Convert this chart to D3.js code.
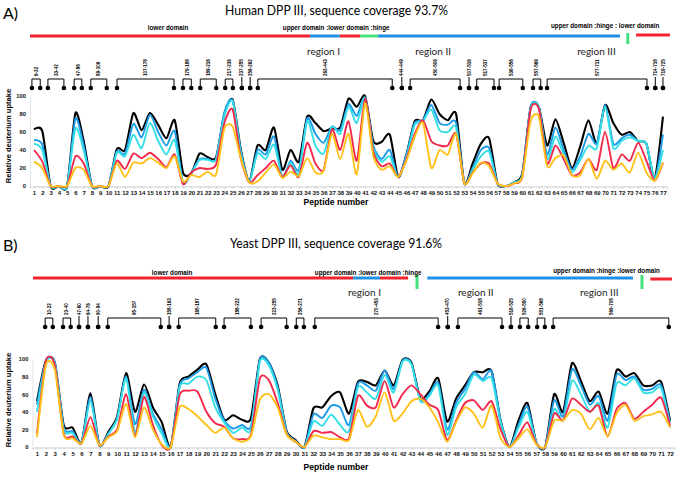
<!DOCTYPE html>
<html><head><meta charset="utf-8">
<script src="https://cdn.jsdelivr.net/npm/d3@7"></script>
<style>body{margin:0;background:#fff}svg{display:block}</style>
</head><body>
<svg id="c" width="682" height="477"></svg>
<script>
// ---------- Panel A: Human DPP III ----------
const humanPeptides = d3.range(1, 78);
const humanBlack = [63,61,0,0,0,81,50,0,0,0, 41,40,81,62,81,68,53,73,15,14, 36,32,32,80,96,40,5,45,40,65, 18,40,27,77,70,61,64,65,97,88, 100,50,49,57,10,35,72,73,96,80, 73,80,3,25,47,53,3,0,4,14, 87,88,45,74,48,20,44,73,47,90, 70,57,60,50,47,8,77];
const humanBlue  = [51,46,0,0,0,75,45,0,0,0, 38,36,69,54,79,60,45,61,4,15, 30,30,30,82,95,38,5,40,35,55, 10,28,18,75,58,48,66,62,91,78, 98,45,30,40,10,35,70,73,90,70, 68,70,3,20,40,42,3,0,4,12, 88,88,35,65,40,18,33,58,47,90, 47,53,57,50,47,8,57];
const humanCyan  = [47,40,0,0,0,64,40,0,0,0, 37,33,57,42,70,50,35,51,3,14, 29,29,30,78,94,36,5,36,30,46, 10,26,14,72,45,36,66,58,88,70, 98,42,27,33,10,32,68,72,85,62, 60,65,3,18,33,38,3,0,4,12, 86,88,30,55,35,15,29,45,42,88, 42,50,54,50,47,8,40];
const humanRed   = [40,27,0,0,0,33,25,0,0,0, 28,19,36,31,37,30,21,35,2,15, 20,19,24,70,85,30,4,12,20,28, 10,23,10,48,25,18,63,40,72,28, 97,38,22,25,10,30,58,73,50,45, 45,58,3,15,25,25,3,0,3,10, 85,86,25,45,30,12,15,30,18,60, 20,35,28,48,28,6,26];
const humanOrange= [27,20,0,0,0,20,18,0,0,0, 25,10,26,25,31,26,20,33,5,12, 10,16,13,64,66,30,4,5,15,24, 9,16,11,31,15,17,58,30,58,13, 92,33,18,22,10,28,55,70,20,40, 35,58,3,14,26,22,3,0,3,10, 72,77,22,31,34,12,12,30,8,28, 18,25,15,37,15,6,26];

const humanDomainStart = [0, 43.75, 48.4, 51.6, 54.4, 94.7];
const humanDomainEnd   = [43.75, 48.4, 51.6, 54.4, 92.2, 100];
const humanDomainType  = ["lower","upper","lower","hinge","upper","lower"];
const humanHingeMarks  = [93.4];
const humanDomainLabels = ["lower domain", "upper domain :lower domain :hinge", "upper domain :hinge : lower domain"];
const humanDomainLabelPos = [18.4, 39.5, 81.4];
const humanRegions = ["region I", "region II", "region III"];
const humanRegionPos = [43.3, 60.2, 85.5];
const humanPepLabels = ["6-32","33-42","47-88","89-106","107-178","179-188","189-216","217-236","237-255","256-262","263-443","444-449","450-506","507-516","517-537","538-556","557-569","577-711","714-718","719-725"];
const humanPepFrom = [0.3,2.8,6.9,9.5,13.6,23.9,26.6,30.5,33.1,34.4,35.6,58.1,59.4,68.6,69.8,73.3,78.6,80.8,97.7,98.9];
const humanPepTo   = [1.6,5.3,8.1,12.0,22.5,25.2,29.1,31.7,33.1,34.4,56.6,58.1,67.2,68.6,72.5,77.0,79.8,96.4,97.7,98.9];

// ---------- Panel B: Yeast DPP III ----------
const yeastPeptides = d3.range(1, 73);
const yeastBlack = [52,98,96,25,22,5,61,2,17,35, 84,40,71,45,28,0,72,80,88,94, 60,31,36,31,33,100,96,70,18,8, 0,44,45,58,62,38,74,74,70,87, 70,99,96,55,63,78,29,55,70,85, 85,86,30,0,30,50,5,0,60,40, 95,75,52,63,38,87,80,84,70,70, 74,30];
const yeastBlue  = [48,97,96,22,18,5,57,2,15,33, 80,26,65,38,20,0,70,78,85,90, 55,30,21,25,24,99,96,68,17,7, 0,37,33,47,45,25,72,70,64,87, 66,98,95,53,60,73,20,50,66,85, 77,86,30,0,25,46,5,0,53,35, 88,70,48,58,30,82,76,80,65,66, 70,28];
const yeastCyan  = [40,96,95,20,16,4,52,2,15,32, 78,16,62,35,15,0,68,72,80,76, 45,28,16,22,20,97,93,65,16,6, 0,29,24,37,25,18,68,62,55,82, 62,97,94,52,58,70,14,45,60,82, 75,78,28,0,22,40,5,0,43,30, 75,60,40,50,22,72,70,78,62,62, 67,22];
const yeastRed   = [15,98,93,15,12,4,34,2,12,20, 60,13,57,25,2,0,59,64,63,40, 27,23,10,9,14,78,76,50,15,6, 0,18,16,17,11,10,58,47,45,75, 45,60,70,60,48,42,8,30,50,53, 42,52,20,0,13,28,4,0,38,30, 55,48,40,47,12,43,50,32,40,48, 56,24];
const yeastOrange= [11,93,88,14,10,4,24,2,11,18, 49,11,45,20,3,0,45,43,35,25, 16,22,10,6,12,54,60,45,14,6, 0,13,11,9,9,8,42,23,35,62, 30,38,52,55,45,28,6,28,45,38, 22,47,10,0,10,20,3,0,30,30, 42,38,20,33,12,38,48,30,35,37, 40,22];

const yeastDomainStart = [0, 50.1, 54.3, 61.7, 96.6];
const yeastDomainEnd   = [50.1, 54.3, 58.7, 93.9, 100];
const yeastDomainType  = ["lower","upper","lower","upper","lower"];
const yeastHingeMarks  = [60.1, 95.3];
const yeastDomainLabels = ["lower domain", "upper domain :lower domain :hinge", "upper domain :hinge :lower domain"];
const yeastDomainLabelPos = [18.6, 44.1, 81.4];
const yeastRegions = ["region I", "region II", "region III"];
const yeastRegionPos = [49.3, 66.5, 85.6];
const yeastPepLabels = ["10-22","23-40","47-60","64-76","90-94","95-157","158-163","165-187","188-222","223-255","256-271","270-453","453-470","461-518","518-525","526-550","551-568","569-708"];
const yeastPepFrom = [1.9,4.7,7.2,8.6,10.2,11.7,21.3,22.8,29.9,35.7,41.2,44.1,64.9,66.5,74.8,76.2,78.9,81.4];
const yeastPepTo   = [3.1,5.9,7.2,8.6,10.2,20.0,21.3,28.6,34.1,39.7,42.4,63.4,64.9,73.4,74.8,77.5,80.1,99.5];

const yTicks = [0, 20, 40, 60, 80, 100];

// ---------- drawing ----------
const svg = d3.select("#c");
const SANS = "'Liberation Sans', Arial, sans-serif";
const domColor = {lower: "#f3232f", upper: "#1e90e6", hinge: "#44e27c"};
const seriesColors = ["#000000", "#1b9ae8", "#34dfe6", "#f2284c", "#ffc11a"];

function panel(cfg) {
  const g = svg.append("g");
  g.append("text").attr("x", cfg.tagX).attr("y", cfg.tagY).text(cfg.tag)
    .style("font-family", "Lato, sans-serif").style("font-size", "16px");
  g.append("text").attr("x", cfg.titleX).attr("y", cfg.titleY).attr("text-anchor", "middle")
    .attr("textLength", cfg.titleLen).attr("lengthAdjust", "spacingAndGlyphs")
    .text(cfg.title).style("font-family", "Lato, sans-serif").style("font-size", "13.5px");

  const rx = d3.scaleLinear().domain([0, 100]).range(cfg.rulerRange);

  // domain bar
  g.selectAll(null).data(d3.range(cfg.domStart.length)).join("line")
    .attr("x1", i => rx(cfg.domStart[i])).attr("x2", i => rx(cfg.domEnd[i]))
    .attr("y1", (i) => cfg.barY + (i === cfg.domStart.length - 1 ? cfg.lastDy : 0))
    .attr("y2", (i) => cfg.barY + (i === cfg.domStart.length - 1 ? cfg.lastDy : 0))
    .attr("stroke", i => domColor[cfg.domType[i]]).attr("stroke-width", 3);
  g.selectAll(null).data(cfg.hinge).join("line")
    .attr("x1", d => rx(d)).attr("x2", d => rx(d))
    .attr("y1", cfg.hingeY[0]).attr("y2", cfg.hingeY[1])
    .attr("stroke", domColor.hinge).attr("stroke-width", 3);
  g.selectAll(null).data(cfg.domLabels).join("text")
    .attr("x", (d, i) => rx(cfg.domLabelPos[i])).attr("y", (d, i) => cfg.domLabelY[i])
    .text(d => d).style("font-family", SANS).style("font-weight", "bold").style("font-size", "6.3px");
  g.selectAll(null).data(cfg.regions).join("text")
    .attr("x", (d, i) => rx(cfg.regionPos[i])).attr("y", cfg.regionY)
    .text(d => d).style("font-family", "Lato, sans-serif").style("font-size", "10px").attr("fill", "#222");

  // peptide brackets
  const br = g.append("g").attr("stroke", "#000").attr("stroke-width", 1).attr("fill", "none");
  cfg.pepLabels.forEach((lab, i) => {
    const a = rx(cfg.pepFrom[i]), b = rx(cfg.pepTo[i]);
    if (Math.abs(a - b) < 0.5) {
      br.append("line").attr("x1", a).attr("x2", a).attr("y1", cfg.brTop - 2).attr("y2", cfg.dotY);
    } else {
      br.append("path").attr("d", `M${a},${cfg.dotY}V${cfg.brTop}H${b}V${cfg.dotY}`);
    }
    [a, b].forEach(px => g.append("circle").attr("cx", px).attr("cy", cfg.dotY).attr("r", 2.3).attr("fill", "#000"));
    const mid = (a + b) / 2;
    g.append("text").attr("transform", `translate(${mid + 1.6},${cfg.brTop - 3}) rotate(-90)`)
      .text(lab).style("font-family", SANS).style("font-weight", "bold").style("font-size", "4.6px");
  });

  // plot
  const n = cfg.peptides.length;
  const x = d3.scaleLinear().domain([0.5, n + 0.5]).range(cfg.xRange);
  const y = d3.scaleLinear().domain([0, 100]).range(cfg.yRange);

  const xAxis = d3.axisBottom(x).tickValues(cfg.peptides).tickFormat(d3.format("d")).tickSize(2).tickPadding(2.5);
  const xa = g.append("g").attr("transform", `translate(0,${cfg.yRange[0] + 0.5})`).call(xAxis);
  xa.select(".domain").attr("stroke", "#c5ccd4");
  xa.selectAll(".tick line").attr("stroke", "#c5ccd4");
  xa.selectAll("text").style("font-family", SANS).style("font-weight", "bold").style("font-size", "6px").attr("fill", "#111");

  const yAxis = d3.axisLeft(y).tickValues(yTicks).tickSize(0).tickPadding(4);
  const ya = g.append("g").attr("transform", `translate(${cfg.xRange[0]},0)`).call(yAxis);
  ya.select(".domain").attr("stroke", "#dfe3e8");
  ya.selectAll("text").style("font-family", SANS).style("font-weight", "bold").style("font-size", "5.8px").attr("fill", "#111");

  const line = d3.line().x((d, i) => x(cfg.peptides[i])).y(d => y(d)).curve(d3.curveCardinal.tension(0.3));
  cfg.series.forEach((s, k) => {
    g.append("path").attr("d", line(s)).attr("fill", "none")
      .attr("stroke", seriesColors[k]).attr("stroke-width", k === 0 ? 2.1 : 1.9)
      .attr("stroke-linejoin", "round");
  });

  g.append("text").attr("x", cfg.xTitle[0]).attr("y", cfg.xTitle[1]).attr("text-anchor", "middle")
    .text("Peptide number").style("font-family", SANS).style("font-weight", "bold").style("font-size", "8.6px");
  g.append("text").attr("transform", `translate(${cfg.yTitle[0]},${cfg.yTitle[1]}) rotate(-90)`)
    .attr("text-anchor", "middle").text("Relative deuterium uptake")
    .style("font-family", SANS).style("font-weight", "bold").style("font-size", "7.6px");
}

panel({
  tag: "A)", tagX: 3, tagY: 19,
  title: "Human DPP III, sequence coverage 93.7%", titleX: 336.5, titleY: 15, titleLen: 223,
  rulerRange: [30, 670], barY: 36, lastDy: -1, hingeY: [33, 44],
  domStart: humanDomainStart, domEnd: humanDomainEnd, domType: humanDomainType, hinge: humanHingeMarks,
  domLabels: humanDomainLabels, domLabelPos: humanDomainLabelPos, domLabelY: [29.5, 29.5, 28],
  regions: humanRegions, regionPos: humanRegionPos, regionY: 55,
  pepLabels: humanPepLabels, pepFrom: humanPepFrom, pepTo: humanPepTo, brTop: 79, dotY: 88,
  peptides: humanPeptides, series: [humanBlack, humanBlue, humanCyan, humanRed, humanOrange],
  xRange: [29.9, 667.1], yRange: [186, 96], xTitle: [336, 205], yTitle: [11, 136]
});

panel({
  tag: "B)", tagX: 3, tagY: 251,
  title: "Yeast DPP III, sequence coverage 91.6%", titleX: 336, titleY: 248, titleLen: 212,
  rulerRange: [33, 672], barY: 278, lastDy: 1, hingeY: [275, 289],
  domStart: yeastDomainStart, domEnd: yeastDomainEnd, domType: yeastDomainType, hinge: yeastHingeMarks,
  domLabels: yeastDomainLabels, domLabelPos: yeastDomainLabelPos, domLabelY: [275, 275, 273],
  regions: yeastRegions, regionPos: yeastRegionPos, regionY: 296,
  pepLabels: yeastPepLabels, pepFrom: yeastPepFrom, pepTo: yeastPepTo, brTop: 318, dotY: 327,
  peptides: yeastPeptides, series: [yeastBlack, yeastBlue, yeastCyan, yeastRed, yeastOrange],
  xRange: [32.5, 674.5], yRange: [447, 359], xTitle: [336, 470], yTitle: [11, 400]
});
</script>
</body></html>
